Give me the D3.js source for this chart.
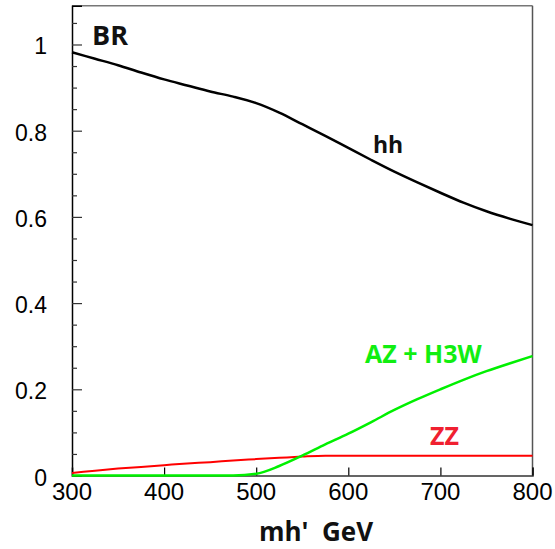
<!DOCTYPE html>
<html>
<head>
<meta charset="utf-8">
<script src="https://cdn.jsdelivr.net/npm/d3@7"></script>
<style>
  html, body { margin: 0; padding: 0; background: #fff; }
  svg { display: block; }
</style>
</head>
<body>
<script>
// ---- data ----
const mass = [300,325,350,375,400,425,450,475,500,525,550,575,600,625,650,675,700,725,750,775,800];
const brHH = [0.982,0.967,0.952,0.935,0.919,0.905,0.891,0.879,0.864,0.842,0.815,0.788,0.760,0.732,0.705,0.680,0.656,0.633,0.613,0.596,0.581];
const brAZH3W = [0,0,0,0,0,0,0,0,0.004,0.022,0.046,0.072,0.097,0.124,0.152,0.177,0.200,0.222,0.242,0.260,0.277];
const brZZ = [0.006,0.011,0.016,0.020,0.024,0.028,0.031,0.035,0.038,0.041,0.044,0.046,0.046,0.046,0.046,0.046,0.046,0.046,0.046,0.046,0.046];
const xTicks = [300,400,500,600,700,800];
const yTicks = [0,0.2,0.4,0.6,0.8,1];
const yTickLabels = ["0","0.2","0.4","0.6","0.8","1"];
const yMinorTicks = [0.05,0.1,0.15,0.25,0.3,0.35,0.45,0.5,0.55,0.65,0.7,0.75,0.85,0.9,0.95,1.05];
const seriesLabels = {hh: "hh", az: "AZ + H3W", zz: "ZZ"};
const yTitle = "BR";
const xTitle = "mh'  GeV";

// ---- layout ----
const W = 555, H = 549;
const pLeft = 72, pRight = 532.5, pTop = 5.7, pBottom = 475.5;

const svg = d3.select("body").append("svg").attr("width", W).attr("height", H);

const x = d3.scaleLinear().domain([300, 800]).range([pLeft, pRight]);
const y = d3.scaleLinear().domain([0, 1.09]).range([pBottom, pTop]);

// frame top/right
svg.append("line").attr("x1", pLeft).attr("x2", pRight).attr("y1", pTop).attr("y2", pTop)
  .attr("stroke", "#777").attr("stroke-width", 1.5);
svg.append("line").attr("x1", pRight).attr("x2", pRight).attr("y1", pTop).attr("y2", pBottom)
  .attr("stroke", "#555").attr("stroke-width", 1.5);

// y axis
const yAxis = d3.axisRight(y).tickValues(yTicks).tickSize(10).tickFormat("");
const yg = svg.append("g").attr("transform", `translate(${pLeft},0)`).call(yAxis);
yg.select(".domain").attr("stroke", "#000").attr("stroke-width", 1.5);
yg.selectAll(".tick line").attr("stroke", "#333").attr("stroke-width", 1.2);
const yMinor = d3.axisRight(y).tickValues(yMinorTicks).tickSize(5).tickFormat("");
const ym = svg.append("g").attr("transform", `translate(${pLeft},0)`).call(yMinor);
ym.select(".domain").remove();
ym.selectAll(".tick line").attr("stroke", "#333").attr("stroke-width", 1.2);

svg.append("g").selectAll("text").data(yTicks).join("text")
  .attr("x", 47).attr("y", d => y(d) + 10)
  .attr("text-anchor", "end")
  .attr("font-family", "Liberation Sans, Arial, sans-serif")
  .attr("font-size", 23)
  .attr("fill", "#000")
  .text((d, i) => yTickLabels[i]);

// x axis
const xAxis = d3.axisTop(x).tickValues(xTicks).tickSize(8).tickFormat("");
const xg = svg.append("g").attr("transform", `translate(0,${pBottom})`).call(xAxis);
xg.select(".domain").attr("stroke", "#333").attr("stroke-width", 1.5);
xg.selectAll(".tick line").attr("stroke", "#000").attr("stroke-width", 1.2);

svg.append("g").selectAll("text").data(xTicks).join("text")
  .attr("x", d => x(d)).attr("y", 500)
  .attr("text-anchor", "middle")
  .attr("font-family", "Liberation Sans, Arial, sans-serif")
  .attr("font-size", 24)
  .attr("fill", "#000")
  .text(d => d);

// curves
const line = (vals, curve) => d3.line()
  .x((d, i) => x(mass[i]))
  .y(d => y(d))
  .curve(curve)(vals);

svg.append("path").attr("d", line(brZZ, d3.curveMonotoneX)).attr("fill", "none")
  .attr("stroke", "#ff0000").attr("stroke-width", 2);
svg.append("path").attr("d", line(brAZH3W, d3.curveMonotoneX)).attr("fill", "none")
  .attr("stroke", "#00f000").attr("stroke-width", 2.5);
svg.append("path").attr("d", line(brHH, d3.curveCatmullRom.alpha(0.5))).attr("fill", "none")
  .attr("stroke", "#000").attr("stroke-width", 2.5);

// labels
const boldFont = "Open Sans, Noto Sans, sans-serif";
svg.append("text").attr("x", 92).attr("y", 45)
  .attr("font-family", boldFont).attr("font-weight", "bold").attr("font-size", 27)
  .attr("fill", "#111").text(yTitle);
svg.append("text").attr("x", 373).attr("y", 153)
  .attr("font-family", boldFont).attr("font-weight", "bold").attr("font-size", 23)
  .attr("fill", "#111").text(seriesLabels.hh);
svg.append("text").attr("x", 365).attr("y", 363)
  .attr("font-family", boldFont).attr("font-weight", "bold").attr("font-size", 25)
  .attr("fill", "#11ee11").text(seriesLabels.az);
svg.append("text").attr("x", 430).attr("y", 445)
  .attr("font-family", boldFont).attr("font-weight", "bold").attr("font-size", 25)
  .attr("fill", "#f02030").text(seriesLabels.zz);
svg.append("text").attr("x", 316).attr("y", 541)
  .attr("text-anchor", "middle")
  .attr("font-family", boldFont).attr("font-weight", "bold").attr("font-size", 26)
  .attr("fill", "#111").style("white-space", "pre")
  .text(xTitle);
</script>
</body>
</html>
